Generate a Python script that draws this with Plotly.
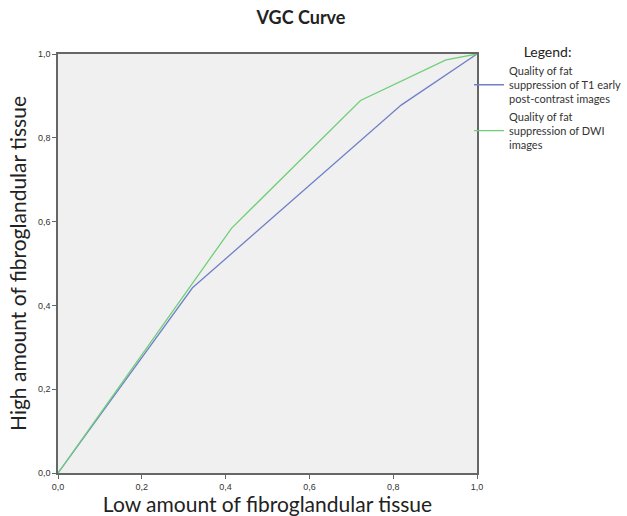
import plotly.graph_objects as go

# Data
t1_x = [0.0, 0.321, 0.819, 1.0]
t1_y = [0.0, 0.442, 0.878, 1.0]
dwi_x = [0.0, 0.414, 0.722, 0.926, 1.0]
dwi_y = [0.0, 0.584, 0.889, 0.986, 1.0]
series_names = [
    "Quality of fat<br>suppression of T1 early<br>post-contrast images",
    "Quality of fat<br>suppression of DWI<br>images",
]
tick_vals = [0.0, 0.2, 0.4, 0.6, 0.8, 1.0]

fig = go.Figure()
fig.add_trace(go.Scatter(x=t1_x, y=t1_y, mode="lines", name=series_names[0],
                         line=dict(color="#6f80c8", width=1.3)))
fig.add_trace(go.Scatter(x=dwi_x, y=dwi_y, mode="lines", name=series_names[1],
                         line=dict(color="#6fcf78", width=1.3)))

axis_common = dict(
    range=[0, 1], tickvals=tick_vals, tickformat=".1f",
    showgrid=False, zeroline=False, automargin=False,
    showline=True, linecolor="#666666", linewidth=1.5, mirror=True,
    ticks="outside", ticklen=4, tickcolor="#666666",
    tickfont=dict(family="Liberation Sans", size=9, color="#333333"),
)

fig.update_layout(
    width=627, height=516,
    separators=",.",
    paper_bgcolor="white", plot_bgcolor="#f0f0f0",
    margin=dict(l=58, r=150, t=54, b=43, autoexpand=False),
    title=dict(text="<b>VGC Curve</b>", x=301 / 627, xanchor="center",
               xref="container", yref="container",
               y=1 - 18 / 516, yanchor="middle",
               font=dict(family="Lato", size=18, color="#222222")),
    xaxis=dict(**axis_common,
               title=dict(text="Low amount of fibroglandular tissue", standoff=6,
                          font=dict(family="Lato", size=21, color="#222222"))),
    yaxis=dict(**axis_common,
               title=dict(text="High amount of fibroglandular tissue", standoff=6,
                          font=dict(family="Lato", size=21, color="#222222"))),
    legend=dict(
        x=0.981, xanchor="left",
        y=1.0367, yanchor="top",
        bgcolor="rgba(0,0,0,0)", itemwidth=30,
        font=dict(family="Lato", size=11, color="#333333"),
        title=dict(text="Legend:", side="top center",
                   font=dict(family="Lato", size=14, color="#222222")),
        tracegroupgap=0,
    ),
    showlegend=True,
)

fig.write_html("out.html", config={"displayModeBar": False},
               post_script="document.body.style.margin='0';")
